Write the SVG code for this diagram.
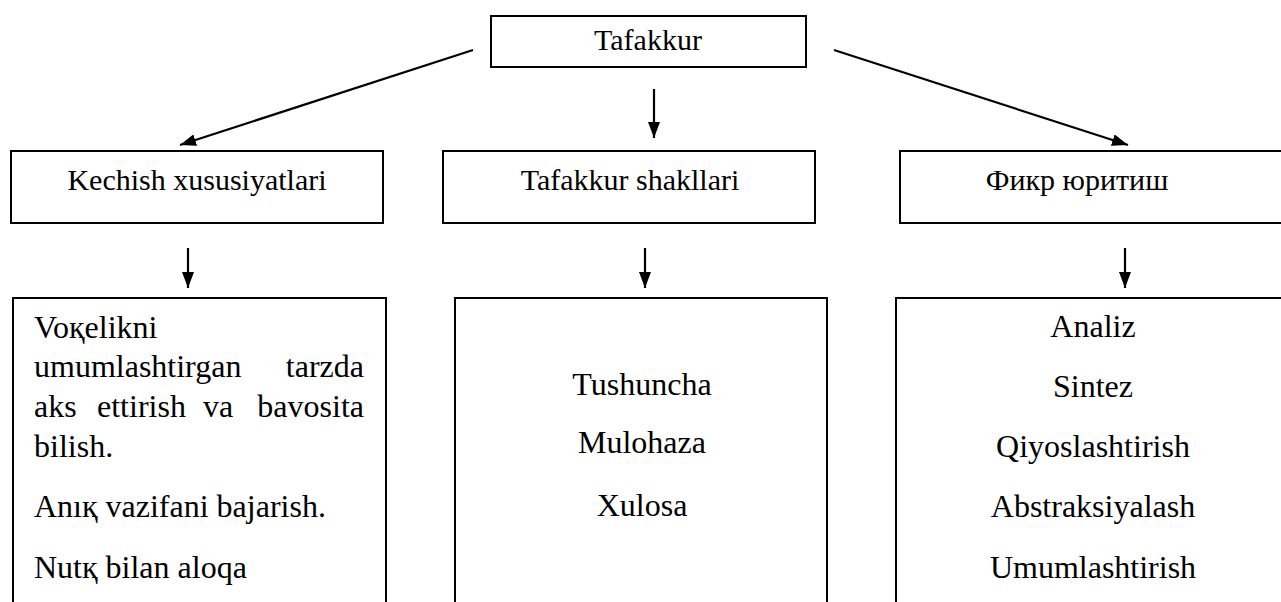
<svg xmlns="http://www.w3.org/2000/svg" width="1281" height="602" viewBox="0 0 1281 602">
<style>
.box{fill:#fff;stroke:#000;stroke-width:2}
text{font-family:'Liberation Serif','Times New Roman','DejaVu Serif',serif;fill:#000}
.s1{font-size:30px}
.s2{font-size:32px}
.c{text-anchor:middle}
.r{text-anchor:end}
.con{stroke:#000;stroke-width:2.2;fill:none}
</style>
<defs>
<marker id="ah" viewBox="0 0 16 12" refX="16" refY="6" markerWidth="16" markerHeight="12" markerUnits="userSpaceOnUse" orient="auto">
<path d="M0,0 L16,6 L0,12 Z" fill="#000"/>
</marker>
</defs>
<rect width="1281" height="602" fill="#fff"/>
<g id="connectors">
<line class="con" x1="473" y1="50" x2="180" y2="145" marker-end="url(#ah)"/>
<line class="con" x1="834" y1="50" x2="1128" y2="145" marker-end="url(#ah)"/>
<line class="con" x1="654" y1="89" x2="654" y2="138" marker-end="url(#ah)"/>
<line class="con" x1="188" y1="248" x2="188" y2="288" marker-end="url(#ah)"/>
<line class="con" x1="645" y1="248" x2="645" y2="288" marker-end="url(#ah)"/>
<line class="con" x1="1125" y1="248" x2="1125" y2="288" marker-end="url(#ah)"/>
</g>
<g id="tafakkur">
<rect class="box" x="491" y="16" width="315" height="51"/>
<text class="s1 c" x="648" y="50" font-family="Liberation Serif, serif">Tafakkur</text>
</g>
<g id="kechish">
<rect class="box" x="11" y="151" width="372" height="72"/>
<text class="s1 c" x="197" y="190">Kechish xususiyatlari</text>
</g>
<g id="shakllari">
<rect class="box" x="443" y="151" width="372" height="72"/>
<text class="s1 c" x="630" y="190">Tafakkur shakllari</text>
</g>
<g id="fikr">
<rect class="box" x="900" y="151" width="400" height="72"/>
<text class="s1 c" x="1077" y="190">Фикр юритиш</text>
</g>
<g id="kechish-list">
<rect class="box" x="13" y="298" width="373" height="330"/>
<text class="s2" x="34" y="338">Voқelikni</text>
<text class="s2" x="34" y="377">umumlashtirgan</text>
<text class="s2 r" x="364" y="377">tarzda</text>
<text class="s2" x="34" y="417">aks</text>
<text class="s2" x="97" y="417">ettirish</text>
<text class="s2" x="203" y="417">va</text>
<text class="s2 r" x="364" y="417">bavosita</text>
<text class="s2" x="34" y="457">bilish.</text>
<text class="s2" x="34" y="517">Anıқ vazifani bajarish.</text>
<text class="s2" x="34" y="578">Nutқ bilan aloqa</text>
</g>
<g id="shakllari-list">
<rect class="box" x="455" y="298" width="372" height="330"/>
<text class="s2 c" x="642" y="395">Tushuncha</text>
<text class="s2 c" x="642" y="453">Mulohaza</text>
<text class="s2 c" x="642" y="516">Xulosa</text>
</g>
<g id="fikr-list">
<rect class="box" x="896" y="298" width="420" height="330"/>
<text class="s2 c" x="1093" y="337">Analiz</text>
<text class="s2 c" x="1093" y="397">Sintez</text>
<text class="s2 c" x="1093" y="457">Qiyoslashtirish</text>
<text class="s2 c" x="1093" y="517">Abstraksiyalash</text>
<text class="s2 c" x="1093" y="578">Umumlashtirish</text>
</g>
</svg>
